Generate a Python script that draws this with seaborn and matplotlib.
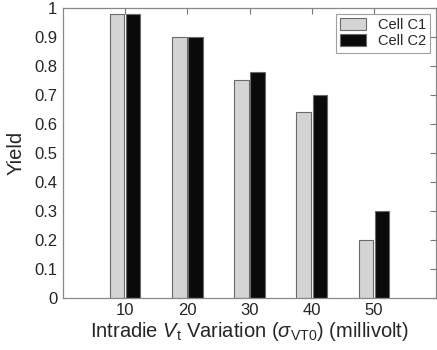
import pandas as pd
import matplotlib
matplotlib.use("Agg")
import matplotlib.pyplot as plt
import seaborn as sns

# data
variation = ["10", "20", "30", "40", "50"]
cell_c1 = [0.98, 0.90, 0.75, 0.64, 0.20]
cell_c2 = [0.98, 0.90, 0.78, 0.70, 0.30]

df = pd.DataFrame({
    "variation": variation * 2,
    "yield": cell_c1 + cell_c2,
    "cell": ["Cell C1"] * len(variation) + ["Cell C2"] * len(variation),
})

sns.set_style("white")
plt.rcParams["font.family"] = ["Liberation Sans", "DejaVu Sans"]
plt.rcParams["mathtext.fontset"] = "custom"
plt.rcParams["mathtext.rm"] = "Liberation Sans"
plt.rcParams["mathtext.it"] = "Liberation Sans:italic"

fig = plt.figure(figsize=(4.37, 3.5), dpi=100)
ax = fig.add_axes([0.144, 0.149, 0.854, 0.829])

sns.barplot(data=df, x="variation", y="yield", hue="cell",
            palette={"Cell C1": "#d4d4d4", "Cell C2": "#0a0a0a"},
            width=0.52, gap=0.1, edgecolor="#6a6a6a", linewidth=0.8,
            ax=ax)

ax.set_xlim(-1, 5)
ax.set_ylim(0, 1)
ax.set_yticks([0, 0.1, 0.2, 0.3, 0.4, 0.5, 0.6, 0.7, 0.8, 0.9, 1])
ax.set_yticklabels(["0", "0.1", "0.2", "0.3", "0.4", "0.5", "0.6",
                    "0.7", "0.8", "0.9", "1"])
ax.tick_params(direction="in", length=4, width=0.8, color="#777777",
               labelsize=12, top=True, right=True, pad=4)

for s in ax.spines.values():
    s.set_color("#888888")
    s.set_linewidth(0.9)

ax.set_ylabel("Yield", fontsize=14.5, labelpad=6)
ax.set_xlabel(r"Intradie $V_{\mathrm{t}}$ Variation ($\sigma_{\mathrm{VT0}}$) (millivolt)",
              fontsize=14.5, labelpad=1)

leg = ax.legend(loc="upper right", fontsize=10.5, frameon=True, fancybox=False,
                handlelength=1.8, handleheight=0.9, borderpad=0.3,
                labelspacing=0.15, borderaxespad=0.4)
leg.get_frame().set_edgecolor("#888888")
leg.get_frame().set_linewidth(0.8)

fig.savefig("out.png", dpi=100)
